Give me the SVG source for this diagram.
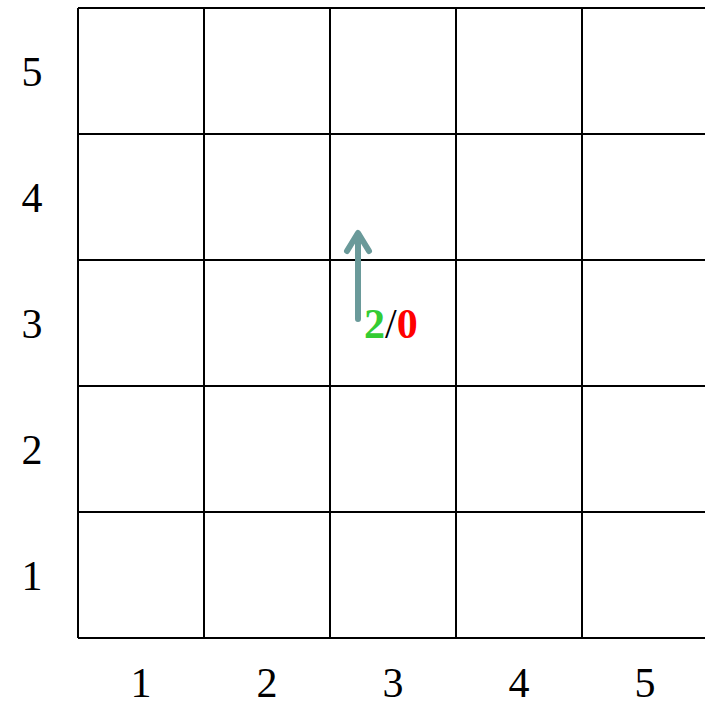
<svg xmlns="http://www.w3.org/2000/svg" width="705" height="701" viewBox="0 0 705 701">
<style>
.g{stroke:#000;stroke-width:2;fill:none}
.lab{font-family:"Liberation Serif",serif;font-size:42px;fill:#000;text-anchor:middle}
.arr{stroke:#6a9a9a;stroke-width:6;fill:none;stroke-linecap:round;stroke-linejoin:round}
</style>
<rect width="705" height="701" fill="#fff"/>
<g id="grid">
<path class="g" d="M78 8H709M78 134H709M78 260H709M78 386H709M78 512H709M78 638H709M78 8V638M204 8V638M330 8V638M456 8V638M582 8V638M708 8V638"/>
</g>
<g id="rowlabels">
<text class="lab" x="32" y="86">5</text>
<text class="lab" x="32" y="212">4</text>
<text class="lab" x="32" y="338">3</text>
<text class="lab" x="32" y="464">2</text>
<text class="lab" x="32" y="590">1</text>
</g>
<g id="collabels">
<text class="lab" x="141" y="697">1</text>
<text class="lab" x="267" y="697">2</text>
<text class="lab" x="393" y="697">3</text>
<text class="lab" x="519" y="697">4</text>
<text class="lab" x="645" y="697">5</text>
</g>
<g id="connectors">
<path class="arr" d="M358 319V234M347 251L358 233L369 251"/>
</g>
<g id="score">
<text x="364" y="338" font-family="Liberation Serif,serif" font-size="42px"><tspan fill="#33cc33" font-weight="bold">2</tspan><tspan fill="#000">/</tspan><tspan fill="#ff0000" font-weight="bold">0</tspan></text>
</g>
</svg>
